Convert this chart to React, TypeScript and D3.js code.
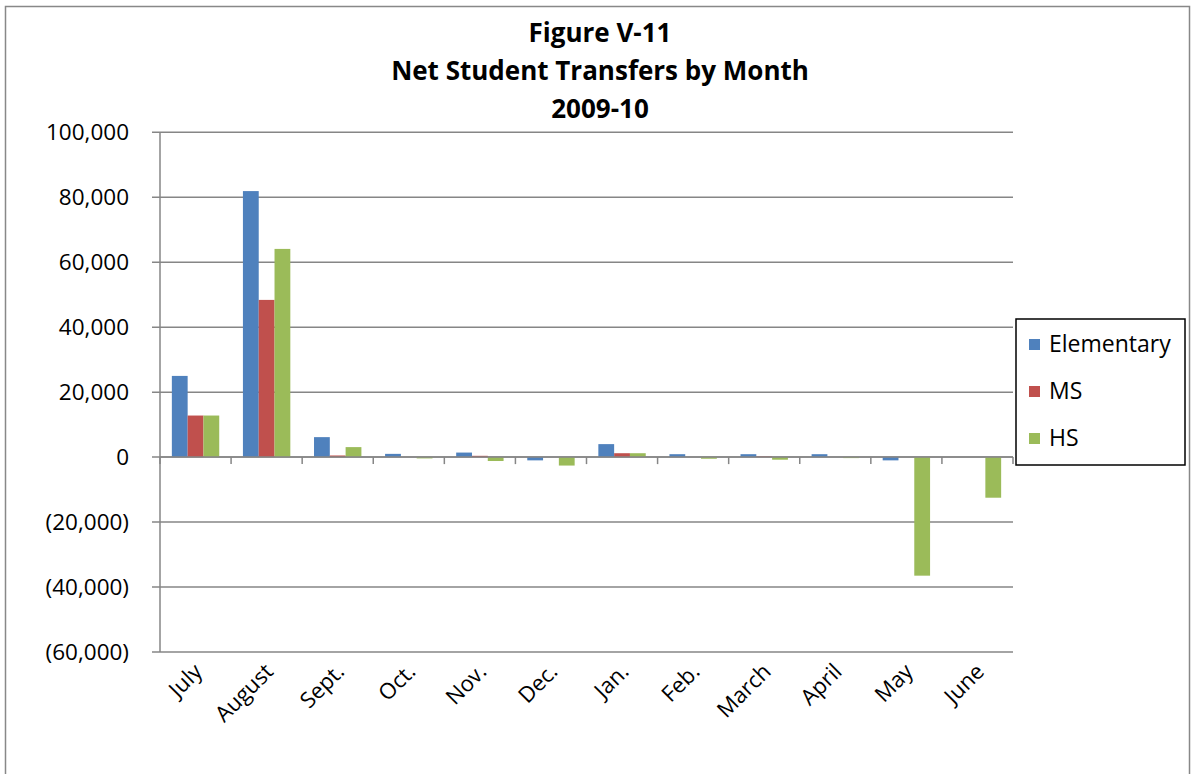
import React from "react";
import * as d3 from "d3";

const months = ["July", "August", "Sept.", "Oct.", "Nov.", "Dec.", "Jan.", "Feb.", "March", "April", "May", "June"];
const elementary = [25000, 81900, 6150, 1000, 1400, -1000, 4000, 900, 900, 900, -1000, 0];
const ms = [12800, 48400, 500, 0, 400, 0, 1200, 0, 200, 0, 0, 0];
const hs = [12800, 64100, 3080, -400, -1200, -2600, 1200, -500, -800, -300, -36500, -12500];
const seriesNames = ["Elementary", "MS", "HS"];
const seriesColors = ["#4F81BD", "#C0504D", "#9BBB59"];
const yTicks = [100000, 80000, 60000, 40000, 20000, 0, -20000, -40000, -60000];
const titleLines = ["Figure V-11", "Net Student Transfers by Month", "2009-10"];

const W = 1194;
const H = 774;
const left = 160;
const right = 1013;
const top = 132.3;
const bottom = 652;
const FONT = "'Open Sans', 'Liberation Sans', sans-serif";

export default function App() {
  const series = [elementary, ms, hs];
  const x0 = d3.scaleBand<string>().domain(months).range([left, right]).paddingInner(0).paddingOuter(0);
  const bw = x0.bandwidth() / 4.5;
  const y = d3.scaleLinear().domain([-60000, 100000]).range([bottom, top]);
  const fmt = (v: number) => {
    const s = d3.format(",")(Math.abs(v));
    return v < 0 ? `(${s})` : s;
  };
  const y0 = y(0);
  return (
    <svg width={W} height={H} style={{ position: "absolute", left: 0, top: 0, background: "#fff" }}>
      <rect x={5.5} y={6.5} width={1184} height={780} fill="#fff" stroke="#888" strokeWidth={1.5} />
      {titleLines.map((t, i) => (
        <text key={i} x={600} y={42 + i * 38} textAnchor="middle" fontFamily={FONT} fontWeight="bold" fontSize={26} fill="#000">
          {t}
        </text>
      ))}
      {yTicks.map((t) => (
        <g key={t}>
          <line x1={left - 8} x2={right} y1={y(t)} y2={y(t)} stroke="#868686" strokeWidth={1.5} />
          <text x={129} y={y(t) + 8} textAnchor="end" fontFamily={FONT} fontSize={22.5} fill="#000">
            {fmt(t)}
          </text>
        </g>
      ))}
      <line x1={left} x2={left} y1={top} y2={bottom} stroke="#868686" strokeWidth={1.5} />
      {series.map((vals, si) =>
        vals.map((v, i) => {
          const xPos = (x0(months[i]) as number) + bw * 0.75 + si * bw;
          const yy = Math.min(y(v), y0);
          const h = Math.abs(y(v) - y0);
          return <rect key={`${si}-${i}`} x={xPos} y={yy} width={bw} height={h} fill={seriesColors[si]} />;
        })
      )}
      <line x1={left} x2={right} y1={y0} y2={y0} stroke="#868686" strokeWidth={1.5} />
      {months.map((m, i) => (
        <line key={m} x1={(x0(m) as number) + x0.bandwidth()} x2={(x0(m) as number) + x0.bandwidth()} y1={y0} y2={y0 + 7} stroke="#868686" strokeWidth={1.5} />
      ))}
      <line x1={left} x2={left} y1={y0} y2={y0 + 7} stroke="#868686" strokeWidth={1.5} />
      {months.map((m) => {
        const cx = (x0(m) as number) + x0.bandwidth() / 2 + 8;
        const cy = 673;
        return (
          <text key={m} x={cx} y={cy} transform={`rotate(-45 ${cx} ${cy})`} textAnchor="end" fontFamily={FONT} fontSize={22} fill="#000">
            {m}
          </text>
        );
      })}
      <rect x={1016} y={319} width={169} height={146} fill="#fff" stroke="#000" strokeWidth={1.5} />
      {seriesNames.map((n, i) => (
        <g key={n}>
          <rect x={1029} y={339 + i * 47} width={11} height={11} fill={seriesColors[i]} />
          <text x={1049} y={352 + i * 47} fontFamily={FONT} fontSize={23} fill="#000">
            {n}
          </text>
        </g>
      ))}
    </svg>
  );
}
